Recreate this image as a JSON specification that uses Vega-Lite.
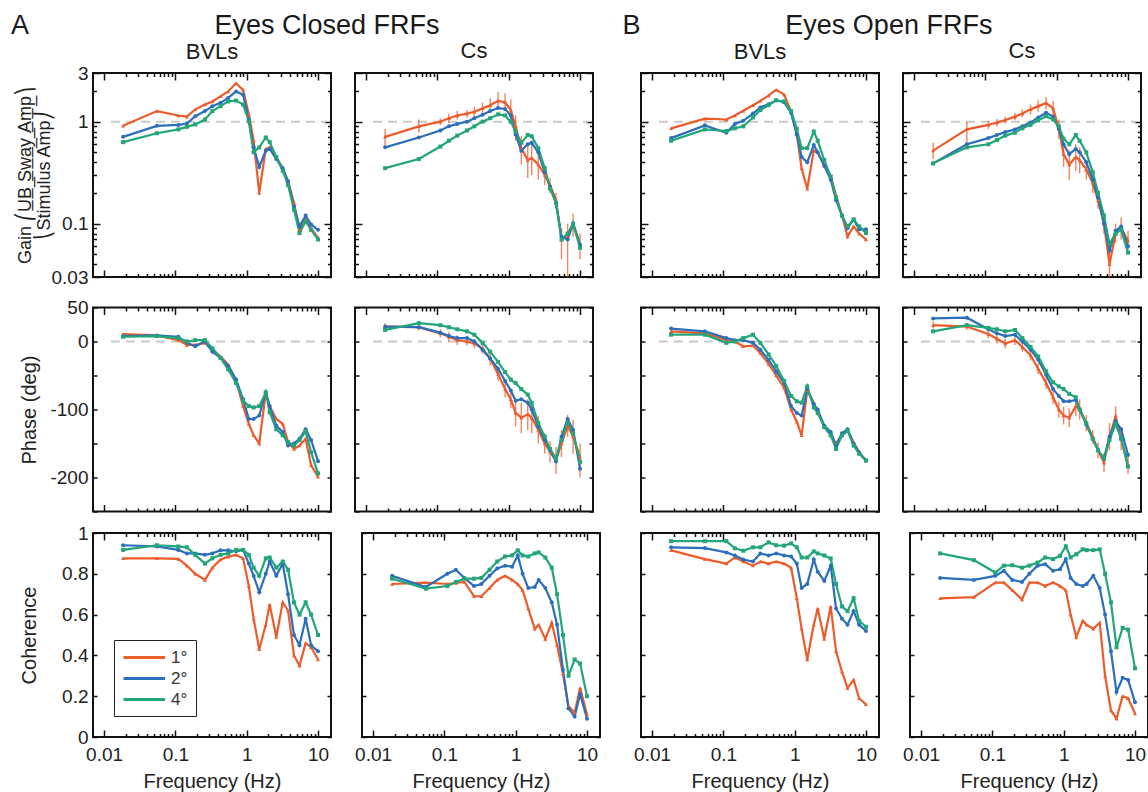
{
"$schema": "https://vega.github.io/schema/vega-lite/v6.json",
"padding": {"left": 11, "top": 12, "right": 2, "bottom": 0},
"background": "white",
"datasets": {
"ref": [{"m":"g","x0":0.0125,"x1":13,"y":1},{"m":"p","x0":0.0125,"x1":13,"y":0}],
"d": [
{"c":"EC","s":"BVLs","a":"1°","f":0.0185,"g":0.91,"p":11,"h":0.876},
{"c":"EC","s":"BVLs","a":"1°","f":0.055,"g":1.27,"p":9,"h":0.876},
{"c":"EC","s":"BVLs","a":"1°","f":0.11,"g":1.15,"p":2,"h":0.873},
{"c":"EC","s":"BVLs","a":"1°","f":0.145,"g":1.12,"p":-5,"h":0.84},
{"c":"EC","s":"BVLs","a":"1°","f":0.19,"g":1.32,"p":-5,"h":0.8},
{"c":"EC","s":"BVLs","a":"1°","f":0.26,"g":1.47,"p":-2,"h":0.77},
{"c":"EC","s":"BVLs","a":"1°","f":0.33,"g":1.58,"p":-12,"h":0.83},
{"c":"EC","s":"BVLs","a":"1°","f":0.43,"g":1.77,"p":-22,"h":0.87},
{"c":"EC","s":"BVLs","a":"1°","f":0.55,"g":1.98,"p":-34,"h":0.884},
{"c":"EC","s":"BVLs","a":"1°","f":0.71,"g":2.38,"p":-58,"h":0.893},
{"c":"EC","s":"BVLs","a":"1°","f":0.89,"g":2.05,"p":-95,"h":0.876},
{"c":"EC","s":"BVLs","a":"1°","f":1.07,"g":1.18,"p":-121,"h":0.74},
{"c":"EC","s":"BVLs","a":"1°","f":1.25,"g":0.65,"p":-138,"h":0.58},
{"c":"EC","s":"BVLs","a":"1°","f":1.5,"g":0.2,"p":-150,"h":0.43},
{"c":"EC","s":"BVLs","a":"1°","f":1.85,"g":0.54,"p":-75,"h":0.55},
{"c":"EC","s":"BVLs","a":"1°","f":2.1,"g":0.56,"p":-95,"h":0.65},
{"c":"EC","s":"BVLs","a":"1°","f":2.6,"g":0.45,"p":-114,"h":0.49},
{"c":"EC","s":"BVLs","a":"1°","f":3.2,"g":0.35,"p":-121,"h":0.66},
{"c":"EC","s":"BVLs","a":"1°","f":3.8,"g":0.26,"p":-148,"h":0.62},
{"c":"EC","s":"BVLs","a":"1°","f":4.6,"g":0.16,"p":-158,"h":0.4},
{"c":"EC","s":"BVLs","a":"1°","f":5.5,"g":0.087,"p":-153,"h":0.35},
{"c":"EC","s":"BVLs","a":"1°","f":6.7,"g":0.11,"p":-143,"h":0.46},
{"c":"EC","s":"BVLs","a":"1°","f":8,"g":0.09,"p":-182,"h":0.44},
{"c":"EC","s":"BVLs","a":"1°","f":10,"g":0.073,"p":-199,"h":0.38},
{"c":"EC","s":"BVLs","a":"2°","f":0.0185,"g":0.71,"p":8,"h":0.94},
{"c":"EC","s":"BVLs","a":"2°","f":0.055,"g":0.91,"p":9,"h":0.934},
{"c":"EC","s":"BVLs","a":"2°","f":0.11,"g":0.93,"p":7,"h":0.917},
{"c":"EC","s":"BVLs","a":"2°","f":0.145,"g":0.96,"p":-2,"h":0.9},
{"c":"EC","s":"BVLs","a":"2°","f":0.19,"g":1.13,"p":-7,"h":0.9},
{"c":"EC","s":"BVLs","a":"2°","f":0.26,"g":1.27,"p":0,"h":0.893},
{"c":"EC","s":"BVLs","a":"2°","f":0.33,"g":1.42,"p":-15,"h":0.9},
{"c":"EC","s":"BVLs","a":"2°","f":0.43,"g":1.53,"p":-24,"h":0.915},
{"c":"EC","s":"BVLs","a":"2°","f":0.55,"g":1.71,"p":-36,"h":0.915},
{"c":"EC","s":"BVLs","a":"2°","f":0.71,"g":1.98,"p":-56,"h":0.91},
{"c":"EC","s":"BVLs","a":"2°","f":0.89,"g":1.84,"p":-85,"h":0.917},
{"c":"EC","s":"BVLs","a":"2°","f":1.07,"g":1.05,"p":-114,"h":0.85},
{"c":"EC","s":"BVLs","a":"2°","f":1.25,"g":0.56,"p":-114,"h":0.79},
{"c":"EC","s":"BVLs","a":"2°","f":1.5,"g":0.36,"p":-109,"h":0.71},
{"c":"EC","s":"BVLs","a":"2°","f":1.85,"g":0.52,"p":-75,"h":0.8},
{"c":"EC","s":"BVLs","a":"2°","f":2.1,"g":0.54,"p":-95,"h":0.86},
{"c":"EC","s":"BVLs","a":"2°","f":2.6,"g":0.43,"p":-124,"h":0.79},
{"c":"EC","s":"BVLs","a":"2°","f":3.2,"g":0.35,"p":-133,"h":0.85},
{"c":"EC","s":"BVLs","a":"2°","f":3.8,"g":0.26,"p":-153,"h":0.7},
{"c":"EC","s":"BVLs","a":"2°","f":4.6,"g":0.147,"p":-150,"h":0.5},
{"c":"EC","s":"BVLs","a":"2°","f":5.5,"g":0.094,"p":-143,"h":0.45},
{"c":"EC","s":"BVLs","a":"2°","f":6.7,"g":0.12,"p":-129,"h":0.58},
{"c":"EC","s":"BVLs","a":"2°","f":8,"g":0.098,"p":-145,"h":0.45},
{"c":"EC","s":"BVLs","a":"2°","f":10,"g":0.087,"p":-176,"h":0.42},
{"c":"EC","s":"BVLs","a":"4°","f":0.0185,"g":0.63,"p":7,"h":0.917},
{"c":"EC","s":"BVLs","a":"4°","f":0.055,"g":0.77,"p":8,"h":0.94},
{"c":"EC","s":"BVLs","a":"4°","f":0.11,"g":0.84,"p":5,"h":0.934},
{"c":"EC","s":"BVLs","a":"4°","f":0.145,"g":0.89,"p":0,"h":0.93},
{"c":"EC","s":"BVLs","a":"4°","f":0.19,"g":0.94,"p":2,"h":0.893},
{"c":"EC","s":"BVLs","a":"4°","f":0.26,"g":1.05,"p":2,"h":0.85},
{"c":"EC","s":"BVLs","a":"4°","f":0.33,"g":1.27,"p":-10,"h":0.876},
{"c":"EC","s":"BVLs","a":"4°","f":0.43,"g":1.42,"p":-24,"h":0.893},
{"c":"EC","s":"BVLs","a":"4°","f":0.55,"g":1.58,"p":-41,"h":0.9},
{"c":"EC","s":"BVLs","a":"4°","f":0.71,"g":1.61,"p":-61,"h":0.917},
{"c":"EC","s":"BVLs","a":"4°","f":0.89,"g":1.47,"p":-87,"h":0.917},
{"c":"EC","s":"BVLs","a":"4°","f":1.07,"g":1.01,"p":-95,"h":0.893},
{"c":"EC","s":"BVLs","a":"4°","f":1.25,"g":0.5,"p":-97,"h":0.83},
{"c":"EC","s":"BVLs","a":"4°","f":1.5,"g":0.56,"p":-95,"h":0.79},
{"c":"EC","s":"BVLs","a":"4°","f":1.85,"g":0.7,"p":-75,"h":0.876},
{"c":"EC","s":"BVLs","a":"4°","f":2.1,"g":0.63,"p":-104,"h":0.88},
{"c":"EC","s":"BVLs","a":"4°","f":2.6,"g":0.45,"p":-129,"h":0.83},
{"c":"EC","s":"BVLs","a":"4°","f":3.2,"g":0.33,"p":-138,"h":0.86},
{"c":"EC","s":"BVLs","a":"4°","f":3.8,"g":0.24,"p":-148,"h":0.82},
{"c":"EC","s":"BVLs","a":"4°","f":4.6,"g":0.137,"p":-153,"h":0.66},
{"c":"EC","s":"BVLs","a":"4°","f":5.5,"g":0.081,"p":-145,"h":0.6},
{"c":"EC","s":"BVLs","a":"4°","f":6.7,"g":0.105,"p":-132,"h":0.66},
{"c":"EC","s":"BVLs","a":"4°","f":8,"g":0.087,"p":-163,"h":0.6},
{"c":"EC","s":"BVLs","a":"4°","f":10,"g":0.07,"p":-194,"h":0.5},
{"c":"EC","s":"Cs","a":"1°","f":0.0185,"g":0.71,"p":22,"h":0.75,"gl":0.55,"gh":0.85,"pl":17,"ph":27},
{"c":"EC","s":"Cs","a":"1°","f":0.055,"g":0.9,"p":21,"h":0.757,"gl":0.78,"gh":1.05,"pl":16,"ph":26},
{"c":"EC","s":"Cs","a":"1°","f":0.11,"g":1.0,"p":12,"h":0.75,"gl":0.93,"gh":1.08,"pl":6,"ph":18},
{"c":"EC","s":"Cs","a":"1°","f":0.145,"g":1.08,"p":7,"h":0.755,"gl":0.97,"gh":1.2,"pl":0,"ph":14},
{"c":"EC","s":"Cs","a":"1°","f":0.19,"g":1.15,"p":2,"h":0.76,"gl":1.05,"gh":1.28,"pl":-5,"ph":9},
{"c":"EC","s":"Cs","a":"1°","f":0.26,"g":1.2,"p":0,"h":0.69,"gl":1.1,"gh":1.3,"pl":-6,"ph":6},
{"c":"EC","s":"Cs","a":"1°","f":0.33,"g":1.25,"p":-3,"h":0.69,"gl":1.12,"gh":1.4,"pl":-10,"ph":4},
{"c":"EC","s":"Cs","a":"1°","f":0.43,"g":1.35,"p":-10,"h":0.73,"gl":1.2,"gh":1.55,"pl":-18,"ph":-2},
{"c":"EC","s":"Cs","a":"1°","f":0.55,"g":1.45,"p":-25,"h":0.77,"gl":1.25,"gh":1.7,"pl":-35,"ph":-15},
{"c":"EC","s":"Cs","a":"1°","f":0.71,"g":1.6,"p":-48,"h":0.79,"gl":1.35,"gh":1.95,"pl":-58,"ph":-38},
{"c":"EC","s":"Cs","a":"1°","f":0.89,"g":1.55,"p":-70,"h":0.77,"gl":1.3,"gh":1.9,"pl":-82,"ph":-58},
{"c":"EC","s":"Cs","a":"1°","f":1.07,"g":1.3,"p":-85,"h":0.75,"gl":1.05,"gh":1.65,"pl":-98,"ph":-72},
{"c":"EC","s":"Cs","a":"1°","f":1.25,"g":0.9,"p":-105,"h":0.72,"gl":0.65,"gh":1.15,"pl":-125,"ph":-85},
{"c":"EC","s":"Cs","a":"1°","f":1.5,"g":0.55,"p":-112,"h":0.63,"gl":0.38,"gh":0.72,"pl":-135,"ph":-90},
{"c":"EC","s":"Cs","a":"1°","f":1.85,"g":0.42,"p":-107,"h":0.53,"gl":0.28,"gh":0.6,"pl":-130,"ph":-85},
{"c":"EC","s":"Cs","a":"1°","f":2.1,"g":0.44,"p":-112,"h":0.55,"gl":0.3,"gh":0.65,"pl":-135,"ph":-90},
{"c":"EC","s":"Cs","a":"1°","f":2.6,"g":0.38,"p":-130,"h":0.48,"gl":0.27,"gh":0.5,"pl":-150,"ph":-110},
{"c":"EC","s":"Cs","a":"1°","f":3.2,"g":0.3,"p":-150,"h":0.56,"gl":0.24,"gh":0.37,"pl":-165,"ph":-135},
{"c":"EC","s":"Cs","a":"1°","f":3.8,"g":0.24,"p":-162,"h":0.45,"gl":0.2,"gh":0.28,"pl":-178,"ph":-146},
{"c":"EC","s":"Cs","a":"1°","f":4.6,"g":0.17,"p":-175,"h":0.31,"gl":0.14,"gh":0.2,"pl":-195,"ph":-155},
{"c":"EC","s":"Cs","a":"1°","f":5.5,"g":0.07,"p":-150,"h":0.15,"gl":0.045,"gh":0.09,"pl":-170,"ph":-130},
{"c":"EC","s":"Cs","a":"1°","f":6.7,"g":0.075,"p":-124,"h":0.12,"gl":0.03,"gh":0.1,"pl":-140,"ph":-108},
{"c":"EC","s":"Cs","a":"1°","f":8,"g":0.1,"p":-140,"h":0.24,"gl":0.075,"gh":0.125,"pl":-165,"ph":-115},
{"c":"EC","s":"Cs","a":"1°","f":10,"g":0.063,"p":-170,"h":0.11,"gl":0.045,"gh":0.08,"pl":-200,"ph":-150},
{"c":"EC","s":"Cs","a":"2°","f":0.0185,"g":0.56,"p":22,"h":0.79},
{"c":"EC","s":"Cs","a":"2°","f":0.055,"g":0.7,"p":21,"h":0.735},
{"c":"EC","s":"Cs","a":"2°","f":0.11,"g":0.82,"p":13,"h":0.8},
{"c":"EC","s":"Cs","a":"2°","f":0.145,"g":0.9,"p":8,"h":0.82},
{"c":"EC","s":"Cs","a":"2°","f":0.19,"g":0.95,"p":5,"h":0.78},
{"c":"EC","s":"Cs","a":"2°","f":0.26,"g":1.0,"p":5,"h":0.74},
{"c":"EC","s":"Cs","a":"2°","f":0.33,"g":1.08,"p":0,"h":0.75},
{"c":"EC","s":"Cs","a":"2°","f":0.43,"g":1.17,"p":-12,"h":0.79},
{"c":"EC","s":"Cs","a":"2°","f":0.55,"g":1.27,"p":-25,"h":0.826},
{"c":"EC","s":"Cs","a":"2°","f":0.71,"g":1.36,"p":-40,"h":0.84},
{"c":"EC","s":"Cs","a":"2°","f":0.89,"g":1.33,"p":-58,"h":0.835},
{"c":"EC","s":"Cs","a":"2°","f":1.07,"g":1.15,"p":-72,"h":0.89},
{"c":"EC","s":"Cs","a":"2°","f":1.25,"g":0.75,"p":-87,"h":0.8},
{"c":"EC","s":"Cs","a":"2°","f":1.5,"g":0.52,"p":-85,"h":0.73},
{"c":"EC","s":"Cs","a":"2°","f":1.85,"g":0.6,"p":-90,"h":0.735},
{"c":"EC","s":"Cs","a":"2°","f":2.1,"g":0.62,"p":-100,"h":0.77},
{"c":"EC","s":"Cs","a":"2°","f":2.6,"g":0.5,"p":-125,"h":0.73},
{"c":"EC","s":"Cs","a":"2°","f":3.2,"g":0.32,"p":-145,"h":0.66},
{"c":"EC","s":"Cs","a":"2°","f":3.8,"g":0.23,"p":-160,"h":0.55},
{"c":"EC","s":"Cs","a":"2°","f":4.6,"g":0.16,"p":-176,"h":0.33},
{"c":"EC","s":"Cs","a":"2°","f":5.5,"g":0.075,"p":-140,"h":0.14},
{"c":"EC","s":"Cs","a":"2°","f":6.7,"g":0.07,"p":-114,"h":0.1},
{"c":"EC","s":"Cs","a":"2°","f":8,"g":0.1,"p":-130,"h":0.21},
{"c":"EC","s":"Cs","a":"2°","f":10,"g":0.062,"p":-187,"h":0.09},
{"c":"EC","s":"Cs","a":"4°","f":0.0185,"g":0.35,"p":17,"h":0.776},
{"c":"EC","s":"Cs","a":"4°","f":0.055,"g":0.43,"p":27,"h":0.727},
{"c":"EC","s":"Cs","a":"4°","f":0.11,"g":0.57,"p":24,"h":0.74},
{"c":"EC","s":"Cs","a":"4°","f":0.145,"g":0.65,"p":21,"h":0.76},
{"c":"EC","s":"Cs","a":"4°","f":0.19,"g":0.73,"p":18,"h":0.776},
{"c":"EC","s":"Cs","a":"4°","f":0.26,"g":0.82,"p":15,"h":0.776},
{"c":"EC","s":"Cs","a":"4°","f":0.33,"g":0.9,"p":10,"h":0.78},
{"c":"EC","s":"Cs","a":"4°","f":0.43,"g":1.0,"p":-2,"h":0.82},
{"c":"EC","s":"Cs","a":"4°","f":0.55,"g":1.08,"p":-15,"h":0.86},
{"c":"EC","s":"Cs","a":"4°","f":0.71,"g":1.18,"p":-30,"h":0.885},
{"c":"EC","s":"Cs","a":"4°","f":0.89,"g":1.15,"p":-45,"h":0.89},
{"c":"EC","s":"Cs","a":"4°","f":1.07,"g":1.0,"p":-56,"h":0.915},
{"c":"EC","s":"Cs","a":"4°","f":1.25,"g":0.8,"p":-61,"h":0.89},
{"c":"EC","s":"Cs","a":"4°","f":1.5,"g":0.62,"p":-70,"h":0.885},
{"c":"EC","s":"Cs","a":"4°","f":1.85,"g":0.74,"p":-78,"h":0.9},
{"c":"EC","s":"Cs","a":"4°","f":2.1,"g":0.72,"p":-90,"h":0.905},
{"c":"EC","s":"Cs","a":"4°","f":2.6,"g":0.55,"p":-120,"h":0.88},
{"c":"EC","s":"Cs","a":"4°","f":3.2,"g":0.35,"p":-140,"h":0.83},
{"c":"EC","s":"Cs","a":"4°","f":3.8,"g":0.22,"p":-158,"h":0.7},
{"c":"EC","s":"Cs","a":"4°","f":4.6,"g":0.16,"p":-172,"h":0.5},
{"c":"EC","s":"Cs","a":"4°","f":5.5,"g":0.07,"p":-145,"h":0.3},
{"c":"EC","s":"Cs","a":"4°","f":6.7,"g":0.08,"p":-119,"h":0.38},
{"c":"EC","s":"Cs","a":"4°","f":8,"g":0.1,"p":-135,"h":0.36},
{"c":"EC","s":"Cs","a":"4°","f":10,"g":0.058,"p":-177,"h":0.2},
{"c":"EO","s":"BVLs","a":"1°","f":0.0185,"g":0.86,"p":15,"h":0.915},
{"c":"EO","s":"BVLs","a":"1°","f":0.055,"g":1.07,"p":12,"h":0.872},
{"c":"EO","s":"BVLs","a":"1°","f":0.11,"g":1.05,"p":2,"h":0.85},
{"c":"EO","s":"BVLs","a":"1°","f":0.145,"g":1.15,"p":0,"h":0.88},
{"c":"EO","s":"BVLs","a":"1°","f":0.19,"g":1.28,"p":-7,"h":0.86},
{"c":"EO","s":"BVLs","a":"1°","f":0.26,"g":1.45,"p":-6,"h":0.84},
{"c":"EO","s":"BVLs","a":"1°","f":0.33,"g":1.6,"p":-17,"h":0.86},
{"c":"EO","s":"BVLs","a":"1°","f":0.43,"g":1.8,"p":-33,"h":0.85},
{"c":"EO","s":"BVLs","a":"1°","f":0.55,"g":2.05,"p":-50,"h":0.86},
{"c":"EO","s":"BVLs","a":"1°","f":0.71,"g":1.85,"p":-68,"h":0.85},
{"c":"EO","s":"BVLs","a":"1°","f":0.89,"g":1.25,"p":-100,"h":0.83},
{"c":"EO","s":"BVLs","a":"1°","f":1.07,"g":0.75,"p":-118,"h":0.68},
{"c":"EO","s":"BVLs","a":"1°","f":1.25,"g":0.35,"p":-138,"h":0.53},
{"c":"EO","s":"BVLs","a":"1°","f":1.5,"g":0.22,"p":-72,"h":0.38},
{"c":"EO","s":"BVLs","a":"1°","f":1.85,"g":0.52,"p":-90,"h":0.55},
{"c":"EO","s":"BVLs","a":"1°","f":2.1,"g":0.5,"p":-105,"h":0.63},
{"c":"EO","s":"BVLs","a":"1°","f":2.6,"g":0.37,"p":-124,"h":0.48},
{"c":"EO","s":"BVLs","a":"1°","f":3.2,"g":0.29,"p":-138,"h":0.64},
{"c":"EO","s":"BVLs","a":"1°","f":3.8,"g":0.19,"p":-150,"h":0.42},
{"c":"EO","s":"BVLs","a":"1°","f":4.6,"g":0.12,"p":-138,"h":0.32},
{"c":"EO","s":"BVLs","a":"1°","f":5.5,"g":0.075,"p":-131,"h":0.24},
{"c":"EO","s":"BVLs","a":"1°","f":6.7,"g":0.094,"p":-148,"h":0.28},
{"c":"EO","s":"BVLs","a":"1°","f":8,"g":0.08,"p":-163,"h":0.19},
{"c":"EO","s":"BVLs","a":"1°","f":10,"g":0.07,"p":-175,"h":0.16},
{"c":"EO","s":"BVLs","a":"2°","f":0.0185,"g":0.69,"p":19,"h":0.93},
{"c":"EO","s":"BVLs","a":"2°","f":0.055,"g":0.92,"p":15,"h":0.926},
{"c":"EO","s":"BVLs","a":"2°","f":0.11,"g":0.78,"p":5,"h":0.905},
{"c":"EO","s":"BVLs","a":"2°","f":0.145,"g":0.95,"p":2,"h":0.89},
{"c":"EO","s":"BVLs","a":"2°","f":0.19,"g":1.02,"p":2,"h":0.87},
{"c":"EO","s":"BVLs","a":"2°","f":0.26,"g":1.2,"p":-2,"h":0.86},
{"c":"EO","s":"BVLs","a":"2°","f":0.33,"g":1.38,"p":-12,"h":0.9},
{"c":"EO","s":"BVLs","a":"2°","f":0.43,"g":1.48,"p":-27,"h":0.89},
{"c":"EO","s":"BVLs","a":"2°","f":0.55,"g":1.62,"p":-44,"h":0.9},
{"c":"EO","s":"BVLs","a":"2°","f":0.71,"g":1.55,"p":-61,"h":0.89},
{"c":"EO","s":"BVLs","a":"2°","f":0.89,"g":1.22,"p":-95,"h":0.885},
{"c":"EO","s":"BVLs","a":"2°","f":1.07,"g":0.75,"p":-105,"h":0.85},
{"c":"EO","s":"BVLs","a":"2°","f":1.25,"g":0.45,"p":-109,"h":0.73},
{"c":"EO","s":"BVLs","a":"2°","f":1.5,"g":0.4,"p":-70,"h":0.75},
{"c":"EO","s":"BVLs","a":"2°","f":1.85,"g":0.59,"p":-92,"h":0.87},
{"c":"EO","s":"BVLs","a":"2°","f":2.1,"g":0.5,"p":-100,"h":0.81},
{"c":"EO","s":"BVLs","a":"2°","f":2.6,"g":0.37,"p":-124,"h":0.765},
{"c":"EO","s":"BVLs","a":"2°","f":3.2,"g":0.27,"p":-133,"h":0.84},
{"c":"EO","s":"BVLs","a":"2°","f":3.8,"g":0.17,"p":-153,"h":0.63},
{"c":"EO","s":"BVLs","a":"2°","f":4.6,"g":0.12,"p":-135,"h":0.58},
{"c":"EO","s":"BVLs","a":"2°","f":5.5,"g":0.09,"p":-129,"h":0.55},
{"c":"EO","s":"BVLs","a":"2°","f":6.7,"g":0.11,"p":-150,"h":0.617},
{"c":"EO","s":"BVLs","a":"2°","f":8,"g":0.088,"p":-163,"h":0.55},
{"c":"EO","s":"BVLs","a":"2°","f":10,"g":0.088,"p":-175,"h":0.52},
{"c":"EO","s":"BVLs","a":"4°","f":0.0185,"g":0.65,"p":10,"h":0.96},
{"c":"EO","s":"BVLs","a":"4°","f":0.055,"g":0.84,"p":10,"h":0.96},
{"c":"EO","s":"BVLs","a":"4°","f":0.11,"g":0.81,"p":-2,"h":0.96},
{"c":"EO","s":"BVLs","a":"4°","f":0.145,"g":0.86,"p":0,"h":0.925},
{"c":"EO","s":"BVLs","a":"4°","f":0.19,"g":0.9,"p":5,"h":0.913},
{"c":"EO","s":"BVLs","a":"4°","f":0.26,"g":1.1,"p":10,"h":0.93},
{"c":"EO","s":"BVLs","a":"4°","f":0.33,"g":1.3,"p":-2,"h":0.93},
{"c":"EO","s":"BVLs","a":"4°","f":0.43,"g":1.45,"p":-19,"h":0.954},
{"c":"EO","s":"BVLs","a":"4°","f":0.55,"g":1.62,"p":-36,"h":0.94},
{"c":"EO","s":"BVLs","a":"4°","f":0.71,"g":1.58,"p":-58,"h":0.938},
{"c":"EO","s":"BVLs","a":"4°","f":0.89,"g":1.27,"p":-80,"h":0.949},
{"c":"EO","s":"BVLs","a":"4°","f":1.07,"g":0.85,"p":-88,"h":0.93},
{"c":"EO","s":"BVLs","a":"4°","f":1.25,"g":0.55,"p":-90,"h":0.88},
{"c":"EO","s":"BVLs","a":"4°","f":1.5,"g":0.55,"p":-66,"h":0.88},
{"c":"EO","s":"BVLs","a":"4°","f":1.85,"g":0.8,"p":-97,"h":0.91},
{"c":"EO","s":"BVLs","a":"4°","f":2.1,"g":0.65,"p":-105,"h":0.9},
{"c":"EO","s":"BVLs","a":"4°","f":2.6,"g":0.42,"p":-126,"h":0.89},
{"c":"EO","s":"BVLs","a":"4°","f":3.2,"g":0.29,"p":-138,"h":0.875},
{"c":"EO","s":"BVLs","a":"4°","f":3.8,"g":0.18,"p":-158,"h":0.75},
{"c":"EO","s":"BVLs","a":"4°","f":4.6,"g":0.12,"p":-138,"h":0.64},
{"c":"EO","s":"BVLs","a":"4°","f":5.5,"g":0.094,"p":-131,"h":0.617},
{"c":"EO","s":"BVLs","a":"4°","f":6.7,"g":0.11,"p":-153,"h":0.68},
{"c":"EO","s":"BVLs","a":"4°","f":8,"g":0.094,"p":-165,"h":0.57},
{"c":"EO","s":"BVLs","a":"4°","f":10,"g":0.081,"p":-175,"h":0.54},
{"c":"EO","s":"Cs","a":"1°","f":0.0185,"g":0.52,"p":24,"h":0.68,"gl":0.43,"gh":0.62,"pl":19,"ph":29},
{"c":"EO","s":"Cs","a":"1°","f":0.055,"g":0.84,"p":22,"h":0.686,"gl":0.62,"gh":1.0,"pl":17,"ph":27},
{"c":"EO","s":"Cs","a":"1°","f":0.11,"g":0.93,"p":11,"h":0.757,"gl":0.85,"gh":1.02,"pl":5,"ph":17},
{"c":"EO","s":"Cs","a":"1°","f":0.145,"g":0.98,"p":4,"h":0.757,"gl":0.9,"gh":1.06,"pl":-3,"ph":11},
{"c":"EO","s":"Cs","a":"1°","f":0.19,"g":1.04,"p":-3,"h":0.72,"gl":0.96,"gh":1.12,"pl":-10,"ph":4},
{"c":"EO","s":"Cs","a":"1°","f":0.26,"g":1.12,"p":2,"h":0.674,"gl":1.03,"gh":1.22,"pl":-5,"ph":9},
{"c":"EO","s":"Cs","a":"1°","f":0.33,"g":1.2,"p":-8,"h":0.757,"gl":1.1,"gh":1.32,"pl":-15,"ph":-1},
{"c":"EO","s":"Cs","a":"1°","f":0.43,"g":1.32,"p":-20,"h":0.757,"gl":1.18,"gh":1.47,"pl":-28,"ph":-12},
{"c":"EO","s":"Cs","a":"1°","f":0.55,"g":1.42,"p":-40,"h":0.74,"gl":1.25,"gh":1.62,"pl":-48,"ph":-32},
{"c":"EO","s":"Cs","a":"1°","f":0.71,"g":1.52,"p":-61,"h":0.757,"gl":1.32,"gh":1.75,"pl":-70,"ph":-52},
{"c":"EO","s":"Cs","a":"1°","f":0.89,"g":1.35,"p":-82,"h":0.74,"gl":1.12,"gh":1.6,"pl":-92,"ph":-72},
{"c":"EO","s":"Cs","a":"1°","f":1.07,"g":0.85,"p":-100,"h":0.72,"gl":0.68,"gh":1.05,"pl":-112,"ph":-88},
{"c":"EO","s":"Cs","a":"1°","f":1.25,"g":0.48,"p":-109,"h":0.6,"gl":0.36,"gh":0.62,"pl":-122,"ph":-96},
{"c":"EO","s":"Cs","a":"1°","f":1.5,"g":0.38,"p":-112,"h":0.49,"gl":0.27,"gh":0.52,"pl":-126,"ph":-98},
{"c":"EO","s":"Cs","a":"1°","f":1.85,"g":0.45,"p":-95,"h":0.57,"gl":0.33,"gh":0.6,"pl":-110,"ph":-80},
{"c":"EO","s":"Cs","a":"1°","f":2.1,"g":0.42,"p":-100,"h":0.55,"gl":0.31,"gh":0.56,"pl":-115,"ph":-85},
{"c":"EO","s":"Cs","a":"1°","f":2.6,"g":0.34,"p":-120,"h":0.53,"gl":0.27,"gh":0.42,"pl":-132,"ph":-108},
{"c":"EO","s":"Cs","a":"1°","f":3.2,"g":0.25,"p":-140,"h":0.56,"gl":0.2,"gh":0.3,"pl":-150,"ph":-130},
{"c":"EO","s":"Cs","a":"1°","f":3.8,"g":0.17,"p":-160,"h":0.3,"gl":0.14,"gh":0.2,"pl":-172,"ph":-148},
{"c":"EO","s":"Cs","a":"1°","f":4.6,"g":0.1,"p":-178,"h":0.13,"gl":0.08,"gh":0.12,"pl":-192,"ph":-164},
{"c":"EO","s":"Cs","a":"1°","f":5.5,"g":0.04,"p":-140,"h":0.09,"gl":0.03,"gh":0.055,"pl":-160,"ph":-120},
{"c":"EO","s":"Cs","a":"1°","f":6.7,"g":0.08,"p":-110,"h":0.2,"gl":0.065,"gh":0.1,"pl":-125,"ph":-95},
{"c":"EO","s":"Cs","a":"1°","f":8,"g":0.09,"p":-143,"h":0.19,"gl":0.07,"gh":0.115,"pl":-160,"ph":-126},
{"c":"EO","s":"Cs","a":"1°","f":10,"g":0.068,"p":-182,"h":0.115,"gl":0.055,"gh":0.085,"pl":-195,"ph":-168},
{"c":"EO","s":"Cs","a":"2°","f":0.0185,"g":0.39,"p":34,"h":0.78},
{"c":"EO","s":"Cs","a":"2°","f":0.055,"g":0.6,"p":35,"h":0.77},
{"c":"EO","s":"Cs","a":"2°","f":0.11,"g":0.69,"p":18,"h":0.79},
{"c":"EO","s":"Cs","a":"2°","f":0.145,"g":0.74,"p":12,"h":0.815},
{"c":"EO","s":"Cs","a":"2°","f":0.19,"g":0.79,"p":8,"h":0.77},
{"c":"EO","s":"Cs","a":"2°","f":0.26,"g":0.84,"p":10,"h":0.76},
{"c":"EO","s":"Cs","a":"2°","f":0.33,"g":0.9,"p":0,"h":0.8},
{"c":"EO","s":"Cs","a":"2°","f":0.43,"g":0.98,"p":-12,"h":0.84},
{"c":"EO","s":"Cs","a":"2°","f":0.55,"g":1.1,"p":-27,"h":0.847},
{"c":"EO","s":"Cs","a":"2°","f":0.71,"g":1.22,"p":-49,"h":0.815},
{"c":"EO","s":"Cs","a":"2°","f":0.89,"g":1.12,"p":-70,"h":0.822},
{"c":"EO","s":"Cs","a":"2°","f":1.07,"g":0.85,"p":-80,"h":0.872},
{"c":"EO","s":"Cs","a":"2°","f":1.25,"g":0.6,"p":-88,"h":0.78},
{"c":"EO","s":"Cs","a":"2°","f":1.5,"g":0.48,"p":-88,"h":0.75},
{"c":"EO","s":"Cs","a":"2°","f":1.85,"g":0.54,"p":-86,"h":0.74},
{"c":"EO","s":"Cs","a":"2°","f":2.1,"g":0.5,"p":-100,"h":0.75},
{"c":"EO","s":"Cs","a":"2°","f":2.6,"g":0.4,"p":-122,"h":0.79},
{"c":"EO","s":"Cs","a":"2°","f":3.2,"g":0.27,"p":-143,"h":0.73},
{"c":"EO","s":"Cs","a":"2°","f":3.8,"g":0.18,"p":-160,"h":0.6},
{"c":"EO","s":"Cs","a":"2°","f":4.6,"g":0.1,"p":-172,"h":0.42},
{"c":"EO","s":"Cs","a":"2°","f":5.5,"g":0.055,"p":-140,"h":0.22},
{"c":"EO","s":"Cs","a":"2°","f":6.7,"g":0.085,"p":-117,"h":0.29},
{"c":"EO","s":"Cs","a":"2°","f":8,"g":0.094,"p":-129,"h":0.28},
{"c":"EO","s":"Cs","a":"2°","f":10,"g":0.06,"p":-167,"h":0.17},
{"c":"EO","s":"Cs","a":"4°","f":0.0185,"g":0.39,"p":15,"h":0.9},
{"c":"EO","s":"Cs","a":"4°","f":0.055,"g":0.56,"p":24,"h":0.867},
{"c":"EO","s":"Cs","a":"4°","f":0.11,"g":0.6,"p":20,"h":0.806},
{"c":"EO","s":"Cs","a":"4°","f":0.145,"g":0.66,"p":18,"h":0.84},
{"c":"EO","s":"Cs","a":"4°","f":0.19,"g":0.73,"p":15,"h":0.842},
{"c":"EO","s":"Cs","a":"4°","f":0.26,"g":0.78,"p":17,"h":0.83},
{"c":"EO","s":"Cs","a":"4°","f":0.33,"g":0.86,"p":5,"h":0.84},
{"c":"EO","s":"Cs","a":"4°","f":0.43,"g":0.93,"p":-8,"h":0.855},
{"c":"EO","s":"Cs","a":"4°","f":0.55,"g":1.03,"p":-22,"h":0.88},
{"c":"EO","s":"Cs","a":"4°","f":0.71,"g":1.13,"p":-44,"h":0.872},
{"c":"EO","s":"Cs","a":"4°","f":0.89,"g":1.05,"p":-60,"h":0.888},
{"c":"EO","s":"Cs","a":"4°","f":1.07,"g":0.9,"p":-66,"h":0.935},
{"c":"EO","s":"Cs","a":"4°","f":1.25,"g":0.68,"p":-70,"h":0.88},
{"c":"EO","s":"Cs","a":"4°","f":1.5,"g":0.6,"p":-77,"h":0.896},
{"c":"EO","s":"Cs","a":"4°","f":1.85,"g":0.74,"p":-82,"h":0.92},
{"c":"EO","s":"Cs","a":"4°","f":2.1,"g":0.65,"p":-100,"h":0.916},
{"c":"EO","s":"Cs","a":"4°","f":2.6,"g":0.5,"p":-120,"h":0.916},
{"c":"EO","s":"Cs","a":"4°","f":3.2,"g":0.32,"p":-143,"h":0.92},
{"c":"EO","s":"Cs","a":"4°","f":3.8,"g":0.2,"p":-160,"h":0.8},
{"c":"EO","s":"Cs","a":"4°","f":4.6,"g":0.12,"p":-172,"h":0.66},
{"c":"EO","s":"Cs","a":"4°","f":5.5,"g":0.063,"p":-145,"h":0.44},
{"c":"EO","s":"Cs","a":"4°","f":6.7,"g":0.08,"p":-121,"h":0.535},
{"c":"EO","s":"Cs","a":"4°","f":8,"g":0.087,"p":-143,"h":0.526},
{"c":"EO","s":"Cs","a":"4°","f":10,"g":0.052,"p":-184,"h":0.337}
]
},
"config": {
"font": "Liberation Sans",
"view": {"stroke": "#111", "strokeWidth": 2},
"axis": {"domain": false, "grid": false, "tickColor": "#111", "tickSize": -4, "tickWidth": 1.5, "labelFontSize": 19, "labelColor": "#222", "labelPadding": 9, "titleFontSize": 20, "titleFontWeight": "normal", "titleColor": "#222"},
"title": {"fontWeight": "normal", "color": "#1a1a1a"},
"concat": {"spacing": 20}
},
"spacing": 20,
"resolve": {"scale": {"color": "independent", "shape": "independent"}, "legend": {"color": "independent", "shape": "independent"}},
"hconcat": [
{
"title": {"text": "A\u2003\u2003\u2003\u2003\u2003\u2003\u2002\u2009\u2006Eyes Closed FRFs", "anchor": "start", "fontSize": 27, "offset": -1, "dx": -4},
"spacing": 9.5,
"resolve": {"scale": {"color": "independent", "shape": "independent"}, "legend": {"color": "independent", "shape": "independent"}},
"vconcat": [
{"spacing": 20, "resolve": {"scale": {"color": "independent", "shape": "independent"}, "legend": {"color": "independent", "shape": "independent"}},
"hconcat": [
{"width": 238, "height": 204, "title": {"text": "BVLs", "fontSize": 22, "offset": 0},
"layer": [
{"data": {"name": "ref"}, "transform": [{"filter": "datum.m=='g'"}], "mark": {"type": "rule", "strokeDash": [9, 6], "strokeWidth": 2, "color": "#c9c9c9"},
"encoding": {"x": {"field": "x0", "type": "quantitative", "scale": {"type": "log", "domain": [0.007, 15.2], "nice": false}, "axis": null}, "x2": {"field": "x1"}, "y": {"field": "y", "type": "quantitative", "scale": {"type": "log", "domain": [0.03, 3], "nice": false}, "axis": null}}},
{"data": {"name": "d"}, "transform": [{"filter": "datum.c=='EC'&&datum.s=='BVLs'"}], "mark": {"type": "line", "strokeWidth": 2.2},
"encoding": {"x": {"field": "f", "type": "quantitative", "scale": {"type": "log", "domain": [0.007, 15.2], "nice": false}, "axis": {"orient": "bottom", "values": [0.01,0.02,0.03,0.04,0.05,0.06,0.07,0.08,0.09,0.1,0.2,0.3,0.4,0.5,0.6,0.7,0.8,0.9,1,2,3,4,5,6,7,8,9,10], "tickSize": {"condition": {"test": "datum.value==0.01||datum.value==0.1||datum.value==1||datum.value==10", "value": -7}, "value": -3.5}, "labels": false, "title": null}},
"y": {"field": "g", "type": "quantitative", "scale": {"type": "log", "domain": [0.03, 3], "nice": false}, "axis": {"orient": "left", "values": [0.03,0.04,0.05,0.06,0.07,0.08,0.09,0.1,0.2,0.3,0.4,0.5,0.6,0.7,0.8,0.9,1,2,3], "tickSize": {"condition": {"test": "datum.value==0.03||datum.value==0.1||datum.value==1||datum.value==3", "value": -7}, "value": -3.5}, "labelPadding": 12, "labelExpr": "datum.value==0.03?'0.03':datum.value==0.1?'0.1':datum.value==1?'1':datum.value==3?'3':''", "title": ["Gain \u239bU\u0332B\u0332 \u0332S\u0332w\u0332a\u0332y\u0332 \u0332A\u0332m\u0332p\u0332\u239e", "\u2003\u2003\u200a\u239dStimulus Amp\u23a0"], "titleFont": "Liberation Sans, DejaVu Sans", "titleFontSize": 18, "titleLineHeight": 19, "minExtent": 34, "maxExtent": 34, "titlePadding": 6}},
"color": {"field": "a", "type": "nominal", "scale": {"domain": ["1°","2°","4°"], "range": ["#ee5b2b","#2b6fbc","#22a578"]}, "legend": null}}},
{"data": {"name": "d"}, "transform": [{"filter": "datum.c=='EC'&&datum.s=='BVLs'"}], "mark": {"type": "point", "filled": true, "size": 16, "opacity": 1},
"encoding": {"x": {"field": "f", "type": "quantitative", "scale": {"type": "log", "domain": [0.007, 15.2], "nice": false}, "axis": {"orient": "top", "values": [0.01,0.02,0.03,0.04,0.05,0.06,0.07,0.08,0.09,0.1,0.2,0.3,0.4,0.5,0.6,0.7,0.8,0.9,1,2,3,4,5,6,7,8,9,10], "tickSize": {"condition": {"test": "datum.value==0.01||datum.value==0.1||datum.value==1||datum.value==10", "value": -7}, "value": -3.5}, "labels": false, "title": null}},
"y": {"field": "g", "type": "quantitative", "scale": {"type": "log", "domain": [0.03, 3], "nice": false}, "axis": {"orient": "right", "values": [0.03,0.04,0.05,0.06,0.07,0.08,0.09,0.1,0.2,0.3,0.4,0.5,0.6,0.7,0.8,0.9,1,2,3], "tickSize": {"condition": {"test": "datum.value==0.03||datum.value==0.1||datum.value==1||datum.value==3", "value": -7}, "value": -3.5}, "labels": false, "title": null}},
"color": {"field": "a", "type": "nominal", "scale": {"domain": ["1°","2°","4°"], "range": ["#ee5b2b","#2b6fbc","#22a578"]}, "legend": null},
"shape": {"field": "a", "type": "nominal", "scale": {"domain": ["1°","2°","4°"], "range": ["triangle-up","circle","square"]}, "legend": null}}}
],
"resolve": {"axis": {"x": "independent", "y": "independent"}}},
{"width": 238, "height": 204, "title": {"text": "Cs", "fontSize": 22, "offset": 9},
"layer": [
{"data": {"name": "ref"}, "transform": [{"filter": "datum.m=='g'"}], "mark": {"type": "rule", "strokeDash": [9, 6], "strokeWidth": 2, "color": "#c9c9c9"},
"encoding": {"x": {"field": "x0", "type": "quantitative", "scale": {"type": "log", "domain": [0.007, 15.2], "nice": false}, "axis": null}, "x2": {"field": "x1"}, "y": {"field": "y", "type": "quantitative", "scale": {"type": "log", "domain": [0.03, 3], "nice": false}, "axis": null}}},
{"data": {"name": "d"}, "transform": [{"filter": "datum.c=='EC'&&datum.s=='Cs'&&datum.a=='1°'"}], "mark": {"type": "rule", "strokeWidth": 1.4, "color": "#ee5b2b", "opacity": 0.75},
"encoding": {"x": {"field": "f", "type": "quantitative", "scale": {"type": "log", "domain": [0.007, 15.2], "nice": false}, "axis": null}, "y": {"field": "gl", "type": "quantitative", "scale": {"type": "log", "domain": [0.03, 3], "nice": false, "clamp": true}, "axis": null}, "y2": {"field": "gh"}}},
{"data": {"name": "d"}, "transform": [{"filter": "datum.c=='EC'&&datum.s=='Cs'"}], "mark": {"type": "line", "strokeWidth": 2.2},
"encoding": {"x": {"field": "f", "type": "quantitative", "scale": {"type": "log", "domain": [0.007, 15.2], "nice": false}, "axis": {"orient": "bottom", "values": [0.01,0.02,0.03,0.04,0.05,0.06,0.07,0.08,0.09,0.1,0.2,0.3,0.4,0.5,0.6,0.7,0.8,0.9,1,2,3,4,5,6,7,8,9,10], "tickSize": {"condition": {"test": "datum.value==0.01||datum.value==0.1||datum.value==1||datum.value==10", "value": -7}, "value": -3.5}, "labels": false, "title": null}},
"y": {"field": "g", "type": "quantitative", "scale": {"type": "log", "domain": [0.03, 3], "nice": false}, "axis": {"orient": "left", "values": [0.03,0.04,0.05,0.06,0.07,0.08,0.09,0.1,0.2,0.3,0.4,0.5,0.6,0.7,0.8,0.9,1,2,3], "tickSize": {"condition": {"test": "datum.value==0.03||datum.value==0.1||datum.value==1||datum.value==3", "value": -7}, "value": -3.5}, "labels": false, "title": null}},
"color": {"field": "a", "type": "nominal", "scale": {"domain": ["1°","2°","4°"], "range": ["#ee5b2b","#2b6fbc","#22a578"]}, "legend": null}}},
{"data": {"name": "d"}, "transform": [{"filter": "datum.c=='EC'&&datum.s=='Cs'"}], "mark": {"type": "point", "filled": true, "size": 16, "opacity": 1},
"encoding": {"x": {"field": "f", "type": "quantitative", "scale": {"type": "log", "domain": [0.007, 15.2], "nice": false}, "axis": {"orient": "top", "values": [0.01,0.02,0.03,0.04,0.05,0.06,0.07,0.08,0.09,0.1,0.2,0.3,0.4,0.5,0.6,0.7,0.8,0.9,1,2,3,4,5,6,7,8,9,10], "tickSize": {"condition": {"test": "datum.value==0.01||datum.value==0.1||datum.value==1||datum.value==10", "value": -7}, "value": -3.5}, "labels": false, "title": null}},
"y": {"field": "g", "type": "quantitative", "scale": {"type": "log", "domain": [0.03, 3], "nice": false}, "axis": {"orient": "right", "values": [0.03,0.04,0.05,0.06,0.07,0.08,0.09,0.1,0.2,0.3,0.4,0.5,0.6,0.7,0.8,0.9,1,2,3], "tickSize": {"condition": {"test": "datum.value==0.03||datum.value==0.1||datum.value==1||datum.value==3", "value": -7}, "value": -3.5}, "labels": false, "title": null}},
"color": {"field": "a", "type": "nominal", "scale": {"domain": ["1°","2°","4°"], "range": ["#ee5b2b","#2b6fbc","#22a578"]}, "legend": null},
"shape": {"field": "a", "type": "nominal", "scale": {"domain": ["1°","2°","4°"], "range": ["triangle-up","circle","square"]}, "legend": null}}}
],
"resolve": {"axis": {"x": "independent", "y": "independent"}}}
]},
{"spacing": 20, "resolve": {"scale": {"color": "independent", "shape": "independent"}, "legend": {"color": "independent", "shape": "independent"}},
"hconcat": [
{"width": 238, "height": 204,
"layer": [
{"data": {"name": "ref"}, "transform": [{"filter": "datum.m=='p'"}], "mark": {"type": "rule", "strokeDash": [9, 6], "strokeWidth": 2, "color": "#c9c9c9"},
"encoding": {"x": {"field": "x0", "type": "quantitative", "scale": {"type": "log", "domain": [0.007, 15.2], "nice": false}, "axis": null}, "x2": {"field": "x1"}, "y": {"field": "y", "type": "quantitative", "scale": {"domain": [-250, 50], "nice": false, "zero": false}, "axis": null}}},
{"data": {"name": "d"}, "transform": [{"filter": "datum.c=='EC'&&datum.s=='BVLs'"}], "mark": {"type": "line", "strokeWidth": 2.2},
"encoding": {"x": {"field": "f", "type": "quantitative", "scale": {"type": "log", "domain": [0.007, 15.2], "nice": false}, "axis": {"orient": "bottom", "values": [0.01,0.02,0.03,0.04,0.05,0.06,0.07,0.08,0.09,0.1,0.2,0.3,0.4,0.5,0.6,0.7,0.8,0.9,1,2,3,4,5,6,7,8,9,10], "tickSize": {"condition": {"test": "datum.value==0.01||datum.value==0.1||datum.value==1||datum.value==10", "value": -7}, "value": -3.5}, "labels": false, "title": null}},
"y": {"field": "p", "type": "quantitative", "scale": {"domain": [-250, 50], "nice": false, "zero": false}, "axis": {"orient": "left", "values": [-250,-200,-150,-100,-50,0,50], "labelExpr": "datum.value==50?'50':datum.value==0?'0':datum.value==-100?'-100':datum.value==-200?'-200':''", "title": "Phase (deg)", "minExtent": 46, "maxExtent": 46, "titlePadding": 8}},
"color": {"field": "a", "type": "nominal", "scale": {"domain": ["1°","2°","4°"], "range": ["#ee5b2b","#2b6fbc","#22a578"]}, "legend": null}}},
{"data": {"name": "d"}, "transform": [{"filter": "datum.c=='EC'&&datum.s=='BVLs'"}], "mark": {"type": "point", "filled": true, "size": 16, "opacity": 1},
"encoding": {"x": {"field": "f", "type": "quantitative", "scale": {"type": "log", "domain": [0.007, 15.2], "nice": false}, "axis": {"orient": "top", "values": [0.01,0.02,0.03,0.04,0.05,0.06,0.07,0.08,0.09,0.1,0.2,0.3,0.4,0.5,0.6,0.7,0.8,0.9,1,2,3,4,5,6,7,8,9,10], "tickSize": {"condition": {"test": "datum.value==0.01||datum.value==0.1||datum.value==1||datum.value==10", "value": -7}, "value": -3.5}, "labels": false, "title": null}},
"y": {"field": "p", "type": "quantitative", "scale": {"domain": [-250, 50], "nice": false, "zero": false}, "axis": {"orient": "right", "values": [-250,-200,-150,-100,-50,0,50], "labels": false, "title": null}},
"color": {"field": "a", "type": "nominal", "scale": {"domain": ["1°","2°","4°"], "range": ["#ee5b2b","#2b6fbc","#22a578"]}, "legend": null},
"shape": {"field": "a", "type": "nominal", "scale": {"domain": ["1°","2°","4°"], "range": ["triangle-up","circle","square"]}, "legend": null}}}
],
"resolve": {"axis": {"x": "independent", "y": "independent"}}},
{"width": 238, "height": 204,
"layer": [
{"data": {"name": "ref"}, "transform": [{"filter": "datum.m=='p'"}], "mark": {"type": "rule", "strokeDash": [9, 6], "strokeWidth": 2, "color": "#c9c9c9"},
"encoding": {"x": {"field": "x0", "type": "quantitative", "scale": {"type": "log", "domain": [0.007, 15.2], "nice": false}, "axis": null}, "x2": {"field": "x1"}, "y": {"field": "y", "type": "quantitative", "scale": {"domain": [-250, 50], "nice": false, "zero": false}, "axis": null}}},
{"data": {"name": "d"}, "transform": [{"filter": "datum.c=='EC'&&datum.s=='Cs'&&datum.a=='1°'"}], "mark": {"type": "rule", "strokeWidth": 1.4, "color": "#ee5b2b", "opacity": 0.75},
"encoding": {"x": {"field": "f", "type": "quantitative", "scale": {"type": "log", "domain": [0.007, 15.2], "nice": false}, "axis": null}, "y": {"field": "pl", "type": "quantitative", "scale": {"domain": [-250, 50], "nice": false, "zero": false}, "axis": null}, "y2": {"field": "ph"}}},
{"data": {"name": "d"}, "transform": [{"filter": "datum.c=='EC'&&datum.s=='Cs'"}], "mark": {"type": "line", "strokeWidth": 2.2},
"encoding": {"x": {"field": "f", "type": "quantitative", "scale": {"type": "log", "domain": [0.007, 15.2], "nice": false}, "axis": {"orient": "bottom", "values": [0.01,0.02,0.03,0.04,0.05,0.06,0.07,0.08,0.09,0.1,0.2,0.3,0.4,0.5,0.6,0.7,0.8,0.9,1,2,3,4,5,6,7,8,9,10], "tickSize": {"condition": {"test": "datum.value==0.01||datum.value==0.1||datum.value==1||datum.value==10", "value": -7}, "value": -3.5}, "labels": false, "title": null}},
"y": {"field": "p", "type": "quantitative", "scale": {"domain": [-250, 50], "nice": false, "zero": false}, "axis": {"orient": "left", "values": [-250,-200,-150,-100,-50,0,50], "labels": false, "title": null}},
"color": {"field": "a", "type": "nominal", "scale": {"domain": ["1°","2°","4°"], "range": ["#ee5b2b","#2b6fbc","#22a578"]}, "legend": null}}},
{"data": {"name": "d"}, "transform": [{"filter": "datum.c=='EC'&&datum.s=='Cs'"}], "mark": {"type": "point", "filled": true, "size": 16, "opacity": 1},
"encoding": {"x": {"field": "f", "type": "quantitative", "scale": {"type": "log", "domain": [0.007, 15.2], "nice": false}, "axis": {"orient": "top", "values": [0.01,0.02,0.03,0.04,0.05,0.06,0.07,0.08,0.09,0.1,0.2,0.3,0.4,0.5,0.6,0.7,0.8,0.9,1,2,3,4,5,6,7,8,9,10], "tickSize": {"condition": {"test": "datum.value==0.01||datum.value==0.1||datum.value==1||datum.value==10", "value": -7}, "value": -3.5}, "labels": false, "title": null}},
"y": {"field": "p", "type": "quantitative", "scale": {"domain": [-250, 50], "nice": false, "zero": false}, "axis": {"orient": "right", "values": [-250,-200,-150,-100,-50,0,50], "labels": false, "title": null}},
"color": {"field": "a", "type": "nominal", "scale": {"domain": ["1°","2°","4°"], "range": ["#ee5b2b","#2b6fbc","#22a578"]}, "legend": null},
"shape": {"field": "a", "type": "nominal", "scale": {"domain": ["1°","2°","4°"], "range": ["triangle-up","circle","square"]}, "legend": null}}}
],
"resolve": {"axis": {"x": "independent", "y": "independent"}}}
]},
{"spacing": 20, "resolve": {"scale": {"color": "independent", "shape": "independent"}, "legend": {"color": "independent", "shape": "independent"}},
"hconcat": [
{"width": 238, "height": 204,
"layer": [
{"data": {"name": "d"}, "transform": [{"filter": "datum.c=='EC'&&datum.s=='BVLs'"}], "mark": {"type": "line", "strokeWidth": 2.2},
"encoding": {"x": {"field": "f", "type": "quantitative", "scale": {"type": "log", "domain": [0.007, 15.2], "nice": false}, "axis": {"orient": "bottom", "values": [0.01,0.02,0.03,0.04,0.05,0.06,0.07,0.08,0.09,0.1,0.2,0.3,0.4,0.5,0.6,0.7,0.8,0.9,1,2,3,4,5,6,7,8,9,10], "tickSize": {"condition": {"test": "datum.value==0.01||datum.value==0.1||datum.value==1||datum.value==10", "value": -7}, "value": -3.5}, "labelExpr": "datum.value==0.01?'0.01':datum.value==0.1?'0.1':datum.value==1?'1':datum.value==10?'10':''", "title": "Frequency (Hz)", "labelPadding": 15.5, "titlePadding": 7}},
"y": {"field": "h", "type": "quantitative", "scale": {"domain": [0, 1], "nice": false}, "axis": {"orient": "left", "values": [0,0.2,0.4,0.6,0.8,1], "labelExpr": "datum.value==0?'0':datum.value==1?'1':format(datum.value,'.1f')", "title": "Coherence", "minExtent": 46, "maxExtent": 46, "titlePadding": 8}},
"color": {"field": "a", "type": "nominal", "scale": {"domain": ["1°","2°","4°"], "range": ["#ee5b2b","#2b6fbc","#22a578"]},
"legend": {"orient": "bottom-left", "offset": 21, "title": null, "symbolType": "M-1,0H4.2", "symbolStrokeWidth": 3, "symbolSize": 256, "strokeColor": "#222", "fillColor": "white", "padding": 8, "labelFontSize": 17, "labelOffset": 30, "rowPadding": 3, "labelColor": "#333"}}}},
{"data": {"name": "d"}, "transform": [{"filter": "datum.c=='EC'&&datum.s=='BVLs'&&datum.a=='1°'"}], "mark": {"type": "point", "filled": true, "size": 16, "opacity": 1, "shape": "triangle-up", "color": "#ee5b2b"},
"encoding": {"x": {"field": "f", "type": "quantitative", "scale": {"type": "log", "domain": [0.007, 15.2], "nice": false}, "axis": {"orient": "top", "values": [0.01,0.02,0.03,0.04,0.05,0.06,0.07,0.08,0.09,0.1,0.2,0.3,0.4,0.5,0.6,0.7,0.8,0.9,1,2,3,4,5,6,7,8,9,10], "tickSize": {"condition": {"test": "datum.value==0.01||datum.value==0.1||datum.value==1||datum.value==10", "value": -7}, "value": -3.5}, "labels": false, "title": null}},
"y": {"field": "h", "type": "quantitative", "scale": {"domain": [0, 1], "nice": false}, "axis": {"orient": "right", "values": [0,0.2,0.4,0.6,0.8,1], "labels": false, "title": null}}}},
{"data": {"name": "d"}, "transform": [{"filter": "datum.c=='EC'&&datum.s=='BVLs'&&datum.a=='2°'"}], "mark": {"type": "point", "filled": true, "size": 16, "opacity": 1, "shape": "circle", "color": "#2b6fbc"},
"encoding": {"x": {"field": "f", "type": "quantitative", "scale": {"type": "log", "domain": [0.007, 15.2], "nice": false}, "axis": null},
"y": {"field": "h", "type": "quantitative", "scale": {"domain": [0, 1], "nice": false}, "axis": null}}},
{"data": {"name": "d"}, "transform": [{"filter": "datum.c=='EC'&&datum.s=='BVLs'&&datum.a=='4°'"}], "mark": {"type": "point", "filled": true, "size": 16, "opacity": 1, "shape": "square", "color": "#22a578"},
"encoding": {"x": {"field": "f", "type": "quantitative", "scale": {"type": "log", "domain": [0.007, 15.2], "nice": false}, "axis": null},
"y": {"field": "h", "type": "quantitative", "scale": {"domain": [0, 1], "nice": false}, "axis": null}}}
],
"resolve": {"axis": {"x": "independent", "y": "independent"}}},
{"width": 238, "height": 204,
"layer": [
{"data": {"name": "d"}, "transform": [{"filter": "datum.c=='EC'&&datum.s=='Cs'"}], "mark": {"type": "line", "strokeWidth": 2.2},
"encoding": {"x": {"field": "f", "type": "quantitative", "scale": {"type": "log", "domain": [0.007, 15.2], "nice": false}, "axis": {"orient": "bottom", "values": [0.01,0.02,0.03,0.04,0.05,0.06,0.07,0.08,0.09,0.1,0.2,0.3,0.4,0.5,0.6,0.7,0.8,0.9,1,2,3,4,5,6,7,8,9,10], "tickSize": {"condition": {"test": "datum.value==0.01||datum.value==0.1||datum.value==1||datum.value==10", "value": -7}, "value": -3.5}, "labelExpr": "datum.value==0.01?'0.01':datum.value==0.1?'0.1':datum.value==1?'1':datum.value==10?'10':''", "title": "Frequency (Hz)", "labelPadding": 15.5, "titlePadding": 7}},
"y": {"field": "h", "type": "quantitative", "scale": {"domain": [0, 1], "nice": false}, "axis": {"orient": "left", "values": [0,0.2,0.4,0.6,0.8,1], "labels": false, "title": null}},
"color": {"field": "a", "type": "nominal", "scale": {"domain": ["1°","2°","4°"], "range": ["#ee5b2b","#2b6fbc","#22a578"]}, "legend": null}}},
{"data": {"name": "d"}, "transform": [{"filter": "datum.c=='EC'&&datum.s=='Cs'"}], "mark": {"type": "point", "filled": true, "size": 16, "opacity": 1},
"encoding": {"x": {"field": "f", "type": "quantitative", "scale": {"type": "log", "domain": [0.007, 15.2], "nice": false}, "axis": {"orient": "top", "values": [0.01,0.02,0.03,0.04,0.05,0.06,0.07,0.08,0.09,0.1,0.2,0.3,0.4,0.5,0.6,0.7,0.8,0.9,1,2,3,4,5,6,7,8,9,10], "tickSize": {"condition": {"test": "datum.value==0.01||datum.value==0.1||datum.value==1||datum.value==10", "value": -7}, "value": -3.5}, "labels": false, "title": null}},
"y": {"field": "h", "type": "quantitative", "scale": {"domain": [0, 1], "nice": false}, "axis": {"orient": "right", "values": [0,0.2,0.4,0.6,0.8,1], "labels": false, "title": null}},
"color": {"field": "a", "type": "nominal", "scale": {"domain": ["1°","2°","4°"], "range": ["#ee5b2b","#2b6fbc","#22a578"]}, "legend": null},
"shape": {"field": "a", "type": "nominal", "scale": {"domain": ["1°","2°","4°"], "range": ["triangle-up","circle","square"]}, "legend": null}}}
],
"resolve": {"axis": {"x": "independent", "y": "independent"}}}
]}
]
},
{
"title": {"text": "B\u2003\u2003\u2003\u2003\u2003\u2009\u2006Eyes Open FRFs", "anchor": "start", "fontSize": 27, "offset": -1, "dx": -2},
"spacing": 9.5,
"resolve": {"scale": {"color": "independent", "shape": "independent"}, "legend": {"color": "independent", "shape": "independent"}},
"vconcat": [
{"spacing": 20, "resolve": {"scale": {"color": "independent", "shape": "independent"}, "legend": {"color": "independent", "shape": "independent"}},
"hconcat": [
{"width": 238, "height": 204, "title": {"text": "BVLs", "fontSize": 22, "offset": 0},
"layer": [
{"data": {"name": "ref"}, "transform": [{"filter": "datum.m=='g'"}], "mark": {"type": "rule", "strokeDash": [9, 6], "strokeWidth": 2, "color": "#c9c9c9"},
"encoding": {"x": {"field": "x0", "type": "quantitative", "scale": {"type": "log", "domain": [0.007, 15.2], "nice": false}, "axis": null}, "x2": {"field": "x1"}, "y": {"field": "y", "type": "quantitative", "scale": {"type": "log", "domain": [0.03, 3], "nice": false}, "axis": null}}},
{"data": {"name": "d"}, "transform": [{"filter": "datum.c=='EO'&&datum.s=='BVLs'"}], "mark": {"type": "line", "strokeWidth": 2.2},
"encoding": {"x": {"field": "f", "type": "quantitative", "scale": {"type": "log", "domain": [0.007, 15.2], "nice": false}, "axis": {"orient": "bottom", "values": [0.01,0.02,0.03,0.04,0.05,0.06,0.07,0.08,0.09,0.1,0.2,0.3,0.4,0.5,0.6,0.7,0.8,0.9,1,2,3,4,5,6,7,8,9,10], "tickSize": {"condition": {"test": "datum.value==0.01||datum.value==0.1||datum.value==1||datum.value==10", "value": -7}, "value": -3.5}, "labels": false, "title": null}},
"y": {"field": "g", "type": "quantitative", "scale": {"type": "log", "domain": [0.03, 3], "nice": false}, "axis": {"orient": "left", "values": [0.03,0.04,0.05,0.06,0.07,0.08,0.09,0.1,0.2,0.3,0.4,0.5,0.6,0.7,0.8,0.9,1,2,3], "tickSize": {"condition": {"test": "datum.value==0.03||datum.value==0.1||datum.value==1||datum.value==3", "value": -7}, "value": -3.5}, "labelExpr": "datum.value==0.03||datum.value==3?'0':''", "labelOpacity": 0, "title": null}},
"color": {"field": "a", "type": "nominal", "scale": {"domain": ["1°","2°","4°"], "range": ["#ee5b2b","#2b6fbc","#22a578"]}, "legend": null}}},
{"data": {"name": "d"}, "transform": [{"filter": "datum.c=='EO'&&datum.s=='BVLs'"}], "mark": {"type": "point", "filled": true, "size": 16, "opacity": 1},
"encoding": {"x": {"field": "f", "type": "quantitative", "scale": {"type": "log", "domain": [0.007, 15.2], "nice": false}, "axis": {"orient": "top", "values": [0.01,0.02,0.03,0.04,0.05,0.06,0.07,0.08,0.09,0.1,0.2,0.3,0.4,0.5,0.6,0.7,0.8,0.9,1,2,3,4,5,6,7,8,9,10], "tickSize": {"condition": {"test": "datum.value==0.01||datum.value==0.1||datum.value==1||datum.value==10", "value": -7}, "value": -3.5}, "labels": false, "title": null}},
"y": {"field": "g", "type": "quantitative", "scale": {"type": "log", "domain": [0.03, 3], "nice": false}, "axis": {"orient": "right", "values": [0.03,0.04,0.05,0.06,0.07,0.08,0.09,0.1,0.2,0.3,0.4,0.5,0.6,0.7,0.8,0.9,1,2,3], "tickSize": {"condition": {"test": "datum.value==0.03||datum.value==0.1||datum.value==1||datum.value==3", "value": -7}, "value": -3.5}, "labels": false, "title": null}},
"color": {"field": "a", "type": "nominal", "scale": {"domain": ["1°","2°","4°"], "range": ["#ee5b2b","#2b6fbc","#22a578"]}, "legend": null},
"shape": {"field": "a", "type": "nominal", "scale": {"domain": ["1°","2°","4°"], "range": ["triangle-up","circle","square"]}, "legend": null}}}
],
"resolve": {"axis": {"x": "independent", "y": "independent"}}},
{"width": 238, "height": 204, "title": {"text": "Cs", "fontSize": 22, "offset": 9},
"layer": [
{"data": {"name": "ref"}, "transform": [{"filter": "datum.m=='g'"}], "mark": {"type": "rule", "strokeDash": [9, 6], "strokeWidth": 2, "color": "#c9c9c9"},
"encoding": {"x": {"field": "x0", "type": "quantitative", "scale": {"type": "log", "domain": [0.007, 15.2], "nice": false}, "axis": null}, "x2": {"field": "x1"}, "y": {"field": "y", "type": "quantitative", "scale": {"type": "log", "domain": [0.03, 3], "nice": false}, "axis": null}}},
{"data": {"name": "d"}, "transform": [{"filter": "datum.c=='EO'&&datum.s=='Cs'&&datum.a=='1°'"}], "mark": {"type": "rule", "strokeWidth": 1.4, "color": "#ee5b2b", "opacity": 0.75},
"encoding": {"x": {"field": "f", "type": "quantitative", "scale": {"type": "log", "domain": [0.007, 15.2], "nice": false}, "axis": null}, "y": {"field": "gl", "type": "quantitative", "scale": {"type": "log", "domain": [0.03, 3], "nice": false, "clamp": true}, "axis": null}, "y2": {"field": "gh"}}},
{"data": {"name": "d"}, "transform": [{"filter": "datum.c=='EO'&&datum.s=='Cs'"}], "mark": {"type": "line", "strokeWidth": 2.2},
"encoding": {"x": {"field": "f", "type": "quantitative", "scale": {"type": "log", "domain": [0.007, 15.2], "nice": false}, "axis": {"orient": "bottom", "values": [0.01,0.02,0.03,0.04,0.05,0.06,0.07,0.08,0.09,0.1,0.2,0.3,0.4,0.5,0.6,0.7,0.8,0.9,1,2,3,4,5,6,7,8,9,10], "tickSize": {"condition": {"test": "datum.value==0.01||datum.value==0.1||datum.value==1||datum.value==10", "value": -7}, "value": -3.5}, "labels": false, "title": null}},
"y": {"field": "g", "type": "quantitative", "scale": {"type": "log", "domain": [0.03, 3], "nice": false}, "axis": {"orient": "left", "values": [0.03,0.04,0.05,0.06,0.07,0.08,0.09,0.1,0.2,0.3,0.4,0.5,0.6,0.7,0.8,0.9,1,2,3], "tickSize": {"condition": {"test": "datum.value==0.03||datum.value==0.1||datum.value==1||datum.value==3", "value": -7}, "value": -3.5}, "labels": false, "title": null}},
"color": {"field": "a", "type": "nominal", "scale": {"domain": ["1°","2°","4°"], "range": ["#ee5b2b","#2b6fbc","#22a578"]}, "legend": null}}},
{"data": {"name": "d"}, "transform": [{"filter": "datum.c=='EO'&&datum.s=='Cs'"}], "mark": {"type": "point", "filled": true, "size": 16, "opacity": 1},
"encoding": {"x": {"field": "f", "type": "quantitative", "scale": {"type": "log", "domain": [0.007, 15.2], "nice": false}, "axis": {"orient": "top", "values": [0.01,0.02,0.03,0.04,0.05,0.06,0.07,0.08,0.09,0.1,0.2,0.3,0.4,0.5,0.6,0.7,0.8,0.9,1,2,3,4,5,6,7,8,9,10], "tickSize": {"condition": {"test": "datum.value==0.01||datum.value==0.1||datum.value==1||datum.value==10", "value": -7}, "value": -3.5}, "labels": false, "title": null}},
"y": {"field": "g", "type": "quantitative", "scale": {"type": "log", "domain": [0.03, 3], "nice": false}, "axis": {"orient": "right", "values": [0.03,0.04,0.05,0.06,0.07,0.08,0.09,0.1,0.2,0.3,0.4,0.5,0.6,0.7,0.8,0.9,1,2,3], "tickSize": {"condition": {"test": "datum.value==0.03||datum.value==0.1||datum.value==1||datum.value==3", "value": -7}, "value": -3.5}, "labels": false, "title": null}},
"color": {"field": "a", "type": "nominal", "scale": {"domain": ["1°","2°","4°"], "range": ["#ee5b2b","#2b6fbc","#22a578"]}, "legend": null},
"shape": {"field": "a", "type": "nominal", "scale": {"domain": ["1°","2°","4°"], "range": ["triangle-up","circle","square"]}, "legend": null}}}
],
"resolve": {"axis": {"x": "independent", "y": "independent"}}}
]},
{"spacing": 20, "resolve": {"scale": {"color": "independent", "shape": "independent"}, "legend": {"color": "independent", "shape": "independent"}},
"hconcat": [
{"width": 238, "height": 204,
"layer": [
{"data": {"name": "ref"}, "transform": [{"filter": "datum.m=='p'"}], "mark": {"type": "rule", "strokeDash": [9, 6], "strokeWidth": 2, "color": "#c9c9c9"},
"encoding": {"x": {"field": "x0", "type": "quantitative", "scale": {"type": "log", "domain": [0.007, 15.2], "nice": false}, "axis": null}, "x2": {"field": "x1"}, "y": {"field": "y", "type": "quantitative", "scale": {"domain": [-250, 50], "nice": false, "zero": false}, "axis": null}}},
{"data": {"name": "d"}, "transform": [{"filter": "datum.c=='EO'&&datum.s=='BVLs'"}], "mark": {"type": "line", "strokeWidth": 2.2},
"encoding": {"x": {"field": "f", "type": "quantitative", "scale": {"type": "log", "domain": [0.007, 15.2], "nice": false}, "axis": {"orient": "bottom", "values": [0.01,0.02,0.03,0.04,0.05,0.06,0.07,0.08,0.09,0.1,0.2,0.3,0.4,0.5,0.6,0.7,0.8,0.9,1,2,3,4,5,6,7,8,9,10], "tickSize": {"condition": {"test": "datum.value==0.01||datum.value==0.1||datum.value==1||datum.value==10", "value": -7}, "value": -3.5}, "labels": false, "title": null}},
"y": {"field": "p", "type": "quantitative", "scale": {"domain": [-250, 50], "nice": false, "zero": false}, "axis": {"orient": "left", "values": [-250,-200,-150,-100,-50,0,50], "labelExpr": "datum.value==50?'0':''", "labelOpacity": 0, "title": null}},
"color": {"field": "a", "type": "nominal", "scale": {"domain": ["1°","2°","4°"], "range": ["#ee5b2b","#2b6fbc","#22a578"]}, "legend": null}}},
{"data": {"name": "d"}, "transform": [{"filter": "datum.c=='EO'&&datum.s=='BVLs'"}], "mark": {"type": "point", "filled": true, "size": 16, "opacity": 1},
"encoding": {"x": {"field": "f", "type": "quantitative", "scale": {"type": "log", "domain": [0.007, 15.2], "nice": false}, "axis": {"orient": "top", "values": [0.01,0.02,0.03,0.04,0.05,0.06,0.07,0.08,0.09,0.1,0.2,0.3,0.4,0.5,0.6,0.7,0.8,0.9,1,2,3,4,5,6,7,8,9,10], "tickSize": {"condition": {"test": "datum.value==0.01||datum.value==0.1||datum.value==1||datum.value==10", "value": -7}, "value": -3.5}, "labels": false, "title": null}},
"y": {"field": "p", "type": "quantitative", "scale": {"domain": [-250, 50], "nice": false, "zero": false}, "axis": {"orient": "right", "values": [-250,-200,-150,-100,-50,0,50], "labels": false, "title": null}},
"color": {"field": "a", "type": "nominal", "scale": {"domain": ["1°","2°","4°"], "range": ["#ee5b2b","#2b6fbc","#22a578"]}, "legend": null},
"shape": {"field": "a", "type": "nominal", "scale": {"domain": ["1°","2°","4°"], "range": ["triangle-up","circle","square"]}, "legend": null}}}
],
"resolve": {"axis": {"x": "independent", "y": "independent"}}},
{"width": 238, "height": 204,
"layer": [
{"data": {"name": "ref"}, "transform": [{"filter": "datum.m=='p'"}], "mark": {"type": "rule", "strokeDash": [9, 6], "strokeWidth": 2, "color": "#c9c9c9"},
"encoding": {"x": {"field": "x0", "type": "quantitative", "scale": {"type": "log", "domain": [0.007, 15.2], "nice": false}, "axis": null}, "x2": {"field": "x1"}, "y": {"field": "y", "type": "quantitative", "scale": {"domain": [-250, 50], "nice": false, "zero": false}, "axis": null}}},
{"data": {"name": "d"}, "transform": [{"filter": "datum.c=='EO'&&datum.s=='Cs'&&datum.a=='1°'"}], "mark": {"type": "rule", "strokeWidth": 1.4, "color": "#ee5b2b", "opacity": 0.75},
"encoding": {"x": {"field": "f", "type": "quantitative", "scale": {"type": "log", "domain": [0.007, 15.2], "nice": false}, "axis": null}, "y": {"field": "pl", "type": "quantitative", "scale": {"domain": [-250, 50], "nice": false, "zero": false}, "axis": null}, "y2": {"field": "ph"}}},
{"data": {"name": "d"}, "transform": [{"filter": "datum.c=='EO'&&datum.s=='Cs'"}], "mark": {"type": "line", "strokeWidth": 2.2},
"encoding": {"x": {"field": "f", "type": "quantitative", "scale": {"type": "log", "domain": [0.007, 15.2], "nice": false}, "axis": {"orient": "bottom", "values": [0.01,0.02,0.03,0.04,0.05,0.06,0.07,0.08,0.09,0.1,0.2,0.3,0.4,0.5,0.6,0.7,0.8,0.9,1,2,3,4,5,6,7,8,9,10], "tickSize": {"condition": {"test": "datum.value==0.01||datum.value==0.1||datum.value==1||datum.value==10", "value": -7}, "value": -3.5}, "labels": false, "title": null}},
"y": {"field": "p", "type": "quantitative", "scale": {"domain": [-250, 50], "nice": false, "zero": false}, "axis": {"orient": "left", "values": [-250,-200,-150,-100,-50,0,50], "labels": false, "title": null}},
"color": {"field": "a", "type": "nominal", "scale": {"domain": ["1°","2°","4°"], "range": ["#ee5b2b","#2b6fbc","#22a578"]}, "legend": null}}},
{"data": {"name": "d"}, "transform": [{"filter": "datum.c=='EO'&&datum.s=='Cs'"}], "mark": {"type": "point", "filled": true, "size": 16, "opacity": 1},
"encoding": {"x": {"field": "f", "type": "quantitative", "scale": {"type": "log", "domain": [0.007, 15.2], "nice": false}, "axis": {"orient": "top", "values": [0.01,0.02,0.03,0.04,0.05,0.06,0.07,0.08,0.09,0.1,0.2,0.3,0.4,0.5,0.6,0.7,0.8,0.9,1,2,3,4,5,6,7,8,9,10], "tickSize": {"condition": {"test": "datum.value==0.01||datum.value==0.1||datum.value==1||datum.value==10", "value": -7}, "value": -3.5}, "labels": false, "title": null}},
"y": {"field": "p", "type": "quantitative", "scale": {"domain": [-250, 50], "nice": false, "zero": false}, "axis": {"orient": "right", "values": [-250,-200,-150,-100,-50,0,50], "labels": false, "title": null}},
"color": {"field": "a", "type": "nominal", "scale": {"domain": ["1°","2°","4°"], "range": ["#ee5b2b","#2b6fbc","#22a578"]}, "legend": null},
"shape": {"field": "a", "type": "nominal", "scale": {"domain": ["1°","2°","4°"], "range": ["triangle-up","circle","square"]}, "legend": null}}}
],
"resolve": {"axis": {"x": "independent", "y": "independent"}}}
]},
{"spacing": 20, "resolve": {"scale": {"color": "independent", "shape": "independent"}, "legend": {"color": "independent", "shape": "independent"}},
"hconcat": [
{"width": 238, "height": 204,
"layer": [
{"data": {"name": "d"}, "transform": [{"filter": "datum.c=='EO'&&datum.s=='BVLs'"}], "mark": {"type": "line", "strokeWidth": 2.2},
"encoding": {"x": {"field": "f", "type": "quantitative", "scale": {"type": "log", "domain": [0.007, 15.2], "nice": false}, "axis": {"orient": "bottom", "values": [0.01,0.02,0.03,0.04,0.05,0.06,0.07,0.08,0.09,0.1,0.2,0.3,0.4,0.5,0.6,0.7,0.8,0.9,1,2,3,4,5,6,7,8,9,10], "tickSize": {"condition": {"test": "datum.value==0.01||datum.value==0.1||datum.value==1||datum.value==10", "value": -7}, "value": -3.5}, "labelExpr": "datum.value==0.01?'0.01':datum.value==0.1?'0.1':datum.value==1?'1':datum.value==10?'10':''", "title": "Frequency (Hz)", "labelPadding": 15.5, "titlePadding": 7}},
"y": {"field": "h", "type": "quantitative", "scale": {"domain": [0, 1], "nice": false}, "axis": {"orient": "left", "values": [0,0.2,0.4,0.6,0.8,1], "labelExpr": "datum.value==1?'0':''", "labelOpacity": 0, "title": null}},
"color": {"field": "a", "type": "nominal", "scale": {"domain": ["1°","2°","4°"], "range": ["#ee5b2b","#2b6fbc","#22a578"]}, "legend": null}}},
{"data": {"name": "d"}, "transform": [{"filter": "datum.c=='EO'&&datum.s=='BVLs'"}], "mark": {"type": "point", "filled": true, "size": 16, "opacity": 1},
"encoding": {"x": {"field": "f", "type": "quantitative", "scale": {"type": "log", "domain": [0.007, 15.2], "nice": false}, "axis": {"orient": "top", "values": [0.01,0.02,0.03,0.04,0.05,0.06,0.07,0.08,0.09,0.1,0.2,0.3,0.4,0.5,0.6,0.7,0.8,0.9,1,2,3,4,5,6,7,8,9,10], "tickSize": {"condition": {"test": "datum.value==0.01||datum.value==0.1||datum.value==1||datum.value==10", "value": -7}, "value": -3.5}, "labels": false, "title": null}},
"y": {"field": "h", "type": "quantitative", "scale": {"domain": [0, 1], "nice": false}, "axis": {"orient": "right", "values": [0,0.2,0.4,0.6,0.8,1], "labels": false, "title": null}},
"color": {"field": "a", "type": "nominal", "scale": {"domain": ["1°","2°","4°"], "range": ["#ee5b2b","#2b6fbc","#22a578"]}, "legend": null},
"shape": {"field": "a", "type": "nominal", "scale": {"domain": ["1°","2°","4°"], "range": ["triangle-up","circle","square"]}, "legend": null}}}
],
"resolve": {"axis": {"x": "independent", "y": "independent"}}},
{"width": 238, "height": 204,
"layer": [
{"data": {"name": "d"}, "transform": [{"filter": "datum.c=='EO'&&datum.s=='Cs'"}], "mark": {"type": "line", "strokeWidth": 2.2},
"encoding": {"x": {"field": "f", "type": "quantitative", "scale": {"type": "log", "domain": [0.007, 15.2], "nice": false}, "axis": {"orient": "bottom", "values": [0.01,0.02,0.03,0.04,0.05,0.06,0.07,0.08,0.09,0.1,0.2,0.3,0.4,0.5,0.6,0.7,0.8,0.9,1,2,3,4,5,6,7,8,9,10], "tickSize": {"condition": {"test": "datum.value==0.01||datum.value==0.1||datum.value==1||datum.value==10", "value": -7}, "value": -3.5}, "labelExpr": "datum.value==0.01?'0.01':datum.value==0.1?'0.1':datum.value==1?'1':datum.value==10?'10':''", "title": "Frequency (Hz)", "labelPadding": 15.5, "titlePadding": 7}},
"y": {"field": "h", "type": "quantitative", "scale": {"domain": [0, 1], "nice": false}, "axis": {"orient": "left", "values": [0,0.2,0.4,0.6,0.8,1], "labels": false, "title": null}},
"color": {"field": "a", "type": "nominal", "scale": {"domain": ["1°","2°","4°"], "range": ["#ee5b2b","#2b6fbc","#22a578"]}, "legend": null}}},
{"data": {"name": "d"}, "transform": [{"filter": "datum.c=='EO'&&datum.s=='Cs'"}], "mark": {"type": "point", "filled": true, "size": 16, "opacity": 1},
"encoding": {"x": {"field": "f", "type": "quantitative", "scale": {"type": "log", "domain": [0.007, 15.2], "nice": false}, "axis": {"orient": "top", "values": [0.01,0.02,0.03,0.04,0.05,0.06,0.07,0.08,0.09,0.1,0.2,0.3,0.4,0.5,0.6,0.7,0.8,0.9,1,2,3,4,5,6,7,8,9,10], "tickSize": {"condition": {"test": "datum.value==0.01||datum.value==0.1||datum.value==1||datum.value==10", "value": -7}, "value": -3.5}, "labels": false, "title": null}},
"y": {"field": "h", "type": "quantitative", "scale": {"domain": [0, 1], "nice": false}, "axis": {"orient": "right", "values": [0,0.2,0.4,0.6,0.8,1], "labels": false, "title": null}},
"color": {"field": "a", "type": "nominal", "scale": {"domain": ["1°","2°","4°"], "range": ["#ee5b2b","#2b6fbc","#22a578"]}, "legend": null},
"shape": {"field": "a", "type": "nominal", "scale": {"domain": ["1°","2°","4°"], "range": ["triangle-up","circle","square"]}, "legend": null}}}
],
"resolve": {"axis": {"x": "independent", "y": "independent"}}}
]}
]
}
]
}
